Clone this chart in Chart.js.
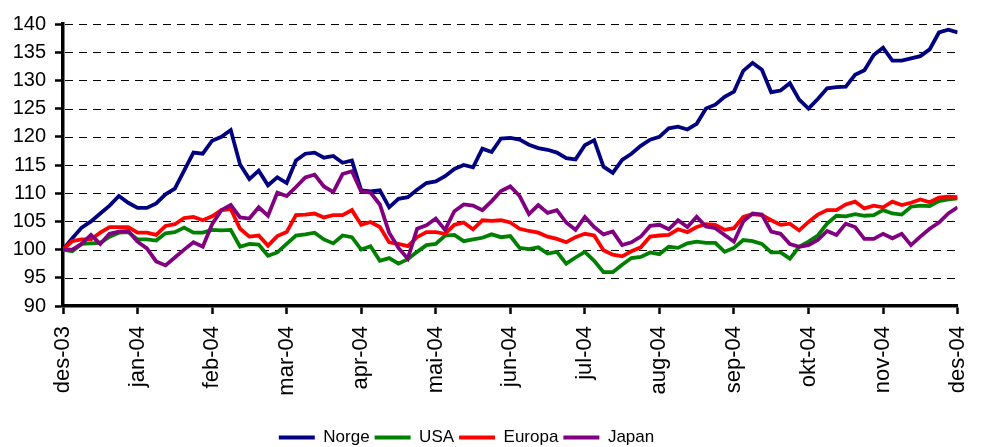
<!DOCTYPE html>
<html>
<head>
<meta charset="utf-8">
<title>Norge, USA, Europa, Japan</title>
<script src="https://cdn.jsdelivr.net/npm/chart.js@4/dist/chart.umd.min.js"></script>
<style>
  body { margin: 0; background: #fff; }
  canvas { display: block; }
</style>
</head>
<body>
<canvas id="mychart" width="996" height="447"></canvas>
<script>
// month labels on the x axis (one tick per month)
var monthLabels = ['des-03', 'jan-04', 'feb-04', 'mar-04', 'apr-04', 'mai-04', 'jun-04', 'jul-04', 'aug-04', 'sep-04', 'okt-04', 'nov-04', 'des-04'];
var pointsPerMonth = 8; // values, 8 per month

var norge = [
  100, 102, 103.9, 105, 106.4, 107.8, 109.5, 108.3,
  107.4, 107.4, 108.2, 109.8, 110.8, 114, 117.2, 117,
  119.3, 120, 121.2, 115.1, 112.5, 114, 111.4, 112.8,
  111.8, 115.8, 117, 117.2, 116.3, 116.6, 115.4, 115.8,
  110.5, 110.3, 110.5, 107.5, 109, 109.3, 110.6, 111.8,
  112.1, 113, 114.3, 115, 114.6, 117.9, 117.3, 119.7,
  119.8, 119.5, 118.6, 118, 117.7, 117.2, 116.2, 116,
  118.5, 119.4, 114.7, 113.6, 115.9, 117, 118.4, 119.5,
  120, 121.5, 121.8, 121.3, 122.3, 125, 125.7, 127.1,
  128, 131.7, 133.1, 131.9, 127.9, 128.2, 129.5, 126.6,
  125, 126.7, 128.6, 128.8, 128.9, 131, 131.8, 134.5,
  135.8, 133.5, 133.5, 133.9, 134.3, 135.5, 138.5, 139,
  138.5
];
var usa = [
  100, 99.7, 101, 101.1, 101.2, 102.3, 103, 103.1,
  101.8, 101.8, 101.6, 102.9, 103.1, 103.9, 103, 103,
  103.5, 103.4, 103.5, 100.5, 101, 100.9, 98.9, 99.5,
  101, 102.5, 102.7, 103, 101.8, 101.1, 102.5, 102.2,
  100, 100.6, 98, 98.5, 97.5, 98.3, 99.6, 100.8,
  101, 102.5, 102.6, 101.5, 101.8, 102.1, 102.7, 102.2,
  102.4, 100.3, 100.1, 100.4, 99.3, 99.6, 97.5, 98.6,
  99.6, 98, 96, 96, 97.3, 98.5, 98.7, 99.5,
  99.2, 100.5, 100.3, 101.1, 101.4, 101.2, 101.2, 99.6,
  100.3, 101.7, 101.5, 101, 99.5, 99.5, 98.4, 100.5,
  101.4, 102.5, 104.6, 106, 105.9, 106.3, 106, 106.1,
  107, 106.4, 106.2, 107.6, 107.8, 107.7, 108.6, 108.9,
  109.1
];
var europa = [
  100, 101.5, 101.8, 101.8, 103, 104, 104, 104,
  103, 103, 102.6, 104.2, 104.5, 105.6, 105.8, 105.2,
  105.9, 107, 107.2, 103.7, 102.3, 102.5, 100.7, 102.4,
  103.1, 106.1, 106.2, 106.4, 105.7, 106.1, 106.1, 107,
  104.4, 104.9, 104, 101.3, 101, 100.6, 102.2, 103.1,
  103.1, 102.8, 104.4, 104.8, 103.6, 105.2, 105.1, 105.2,
  104.8, 103.7, 103.3, 103, 102.3, 101.9, 101.3, 102.2,
  102.8, 102.5, 99.9, 99.1, 98.8, 99.7, 100.4, 102.3,
  102.5, 102.6, 103.6, 103.1, 104, 104.5, 104.4, 103.5,
  103.8, 105.8, 106.3, 106.1, 105.2, 104.4, 104.6, 103.4,
  104.9, 106.2, 107, 107, 108, 108.5, 107.3, 107.8,
  107.5, 108.5, 107.9, 108.3, 108.9, 108.4, 109.2, 109.4,
  109.3
];
var japan = [
  100, 100, 101, 102.6, 101, 102.8, 103.2, 103.3,
  101.4, 100.2, 97.9, 97.2, 98.6, 100, 101.3, 100.5,
  104.5, 107, 107.9, 105.7, 105.5, 107.5, 106, 110.1,
  109.5, 111.1, 112.8, 113.3, 111.2, 110.2, 113.4, 113.9,
  110.3, 110.1, 108, 103, 100.3, 98.4, 103.7, 104.3,
  105.5, 103.5, 106.8, 108, 107.8, 107, 108.6, 110.4,
  111.2, 109.5, 106.3, 107.9, 106.5, 107, 104.8, 103.5,
  105.8, 104, 102.7, 103.2, 100.8, 101.3, 102.3, 104.2,
  104.4, 103.6, 105.2, 104, 105.8, 104.1, 103.8, 102.6,
  101.4, 105, 106.4, 106.2, 103.2, 102.8, 101, 100.5,
  100.8, 101.7, 103.3, 102.6, 104.6, 104, 101.9, 101.9,
  102.8, 102, 102.8, 100.8, 102.3, 103.7, 104.8, 106.4,
  107.5
];

var yTicks = { min: 90, max: 140, step: 5 };

// turn a value list into {x, y} points, x counted in months from des-03
function toPoints(values) {
  return values.map(function(v, i) {
    return { x: i / pointsPerMonth, y: v };
  });
}

function makeSet(label, values, color, order) {
  return {
    label: label,
    data: toPoints(values),
    borderColor: color,
    backgroundColor: color,
    borderWidth: 3.8,
    pointRadius: 0,
    tension: 0,
    fill: false,
    order: order // Japan is drawn on top, Norge at the bottom
  };
}

// dashed horizontal gridlines at the y ticks
var dashedGrid = {
  id: 'dashedGrid',
  afterLayout: function(chart) {
    // legend sits a bit left of the canvas centre in the original
    chart.legend.right -= 50;
  },
  beforeDatasetsDraw: function(chart) {
    var yScale = chart.scales.y;
    var area = chart.chartArea;
    var c = chart.ctx;
    c.save();
    c.strokeStyle = '#000';
    c.lineWidth = 1;
    c.setLineDash([8, 6]);
    yScale.ticks.forEach(function(t) {
      if (t.value === yTicks.min) return;
      var py = Math.round(yScale.getPixelForValue(t.value)) + 0.5;
      c.beginPath();
      c.moveTo(area.left + 2, py);
      c.lineTo(area.right, py);
      c.stroke();
    });
    c.restore();
  }
};

Chart.defaults.font.family = "'Liberation Sans', Arial, sans-serif";
Chart.defaults.color = '#000';

var ctx = document.getElementById('mychart').getContext('2d');
var myChart = new Chart(ctx, {
  type: 'line',
  data: {
    datasets: [
      makeSet('Norge', norge, '#000080', 3),
      makeSet('USA', usa, '#008000', 2),
      makeSet('Europa', europa, '#ff0000', 1),
      makeSet('Japan', japan, '#800080', 0)
    ]
  },
  plugins: [dashedGrid],
  options: {
    responsive: false,
    animation: false,
    layout: { padding: { top: 24, right: 13, bottom: -9, left: 0 } },
    scales: {
      x: {
        type: 'linear',
        min: 0,
        max: monthLabels.length - 1,
        afterFit: function(scale) { scale.height = 118; },
        afterBuildTicks: function(scale) {
          scale.ticks = monthLabels.map(function(m, i) { return { value: i }; });
        },
        ticks: {
          autoSkip: false,
          minRotation: 90,
          maxRotation: 90,
          padding: 12,
          font: { size: 22 },
          callback: function(value) { return monthLabels[value]; }
        },
        grid: {
          drawOnChartArea: false,
          tickLength: 8,
          tickWidth: 2.5,
          tickColor: '#000'
        },
        border: { display: true, color: '#000', width: 3.5 }
      },
      y: {
        min: yTicks.min,
        max: yTicks.max,
        afterFit: function(scale) { scale.width = 63; },
        ticks: {
          stepSize: yTicks.step,
          padding: 9,
          font: { size: 20 }
        },
        grid: {
          drawOnChartArea: false,
          tickLength: 8,
          tickWidth: 2.5,
          tickColor: '#000'
        },
        border: { display: true, color: '#000', width: 3.5 }
      }
    },
    plugins: {
      tooltip: { enabled: false },
      legend: {
        position: 'bottom',
        labels: {
          usePointStyle: true,
          pointStyle: 'line',
          pointStyleWidth: 36,
          padding: 5,
          font: { size: 17 },
          sort: function(a, b) { return a.datasetIndex - b.datasetIndex; }
        }
      }
    }
  }
});
</script>
</body>
</html>
